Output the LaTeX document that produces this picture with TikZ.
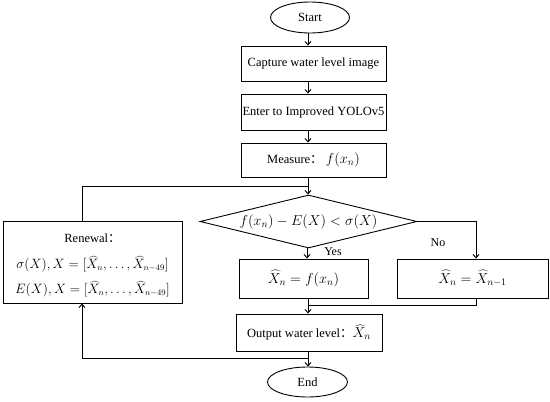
\documentclass[tikz,border=0pt]{standalone}
\usepackage{fontspec}
\setmainfont{Liberation Serif}
\newfontfamily\cjk{Noto Sans CJK SC}
\usetikzlibrary{arrows.meta,shapes.geometric}
\newcommand{\fc}{{\cjk ：}}
\newcommand{\mfont}{\fontsize{14}{16}\selectfont}
\newcommand{\rfont}{\fontsize{13.5}{16}\selectfont}
\begin{document}
\begin{tikzpicture}[x=1pt,y=-1pt,
  box/.style={draw,line width=0.9pt,inner sep=0pt,font=\fontsize{12.5}{14}\selectfont},
  oval/.style={draw,ellipse,line width=0.9pt,inner sep=0pt,font=\fontsize{12.5}{14}\selectfont},
  dia/.style={draw,diamond,aspect=4.1,line width=0.9pt,inner sep=0pt,font=\mfont},
  arr/.style={line width=0.9pt,-{Straight Barb[length=3.5pt,width=6pt]}},
  ln/.style={line width=0.9pt},
  rmath/.style={font=\rfont,inner sep=0pt,scale=0.94,transform shape},
  lbl/.style={font=\fontsize{12}{14}\selectfont}]
\useasboundingbox (0,0) rectangle (550,402);
\node[oval,minimum width=79pt,minimum height=31pt] (start) at (310,17.5) {Start};
\node[box,minimum width=145pt,minimum height=35pt] (cap) at (313.5,63.5) {Capture water level image};
\node[box,minimum width=145pt,minimum height=36pt] (ent) at (313.5,112) {Enter to Improved YOLOv5};
\node[box,minimum width=145pt,minimum height=34pt] (mea) at (313.5,160) {Measure\fc\ {\mfont$f(x_n)$}};
\node[dia,minimum width=217pt,minimum height=53pt] (dec) at (308.5,221.5) {$f(x_n)-E(X)<\sigma(X)$};
\node[box,minimum width=129pt,minimum height=39pt,font=\mfont] (yes) at (303.5,278.5) {$\widehat{X}_n=f(x_n)$};
\node[box,minimum width=151pt,minimum height=39pt,font=\mfont] (no) at (472.5,278.5) {$\widehat{X}_n=\widehat{X}_{n-1}$};
\node[box,minimum width=146pt,minimum height=37pt] (out) at (309,332.5) {Output water level\fc{\mfont$\widehat{X}_n$}};
\node[draw,line width=0.9pt,minimum width=179pt,minimum height=82pt,inner sep=0pt] (ren) at (92.5,262) {};
\node[font=\fontsize{12.5}{14}\selectfont,inner sep=0pt] (renT) at (92.5,238) {Renewal\fc};
\node[rmath] (renA) at (92.5,264) {$\sigma(X),X=[\widehat{X}_n,\dots,\widehat{X}_{n-49}]$};
\node[rmath] (renB) at (92.5,289) {$E(X),X=[\widehat{X}_n,\dots,\widehat{X}_{n-49}]$};
\node[oval,minimum width=80pt,minimum height=30pt] (end) at (307.5,382) {End};
\node[lbl] (yeslbl) at (333,252) {Yes};
\node[lbl] (nolbl) at (438,243) {No};
\coordinate (j1) at (308,186);
\coordinate (j2) at (308,305);
\coordinate (j3) at (308,358);
\draw[arr] (start.south -| 308,0) -- (cap.north -| 308,0);
\draw[arr] (cap.south -| 308,0) -- (ent.north -| 308,0);
\draw[arr] (ent.south -| 308,0) -- (mea.north -| 308,0);
\draw[arr] (mea.south -| 308,0) -- (dec.north -| 308,0);
\draw[ln] (ren.north -| 82,0) |- (j1);
\draw[arr] (dec.south -| 307,0) -- (yes.north -| 307,0);
\draw[arr] (dec.east) -| (no.north -| 476,0);
\draw[ln] (no.south -| 476,0) |- (j2);
\draw[ln] (yes.south -| 308,0) -- (j2);
\draw[arr] (j2) -- (out.north -| 308,0);
\draw[arr] (out.south -| 308,0) -- (end.north -| 308,0);
\draw[arr] (j3) -| (ren.south -| 82,0);
\end{tikzpicture}
\end{document}
